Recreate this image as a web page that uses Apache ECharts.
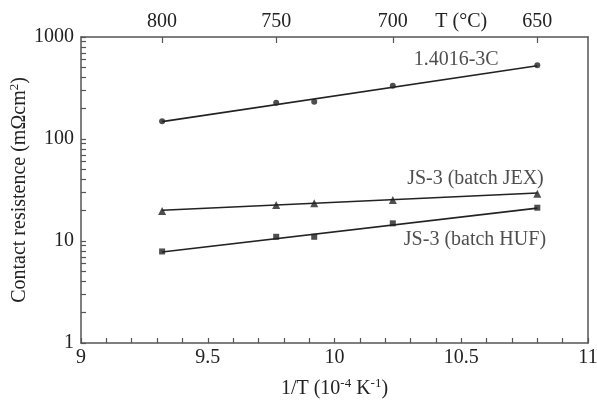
<!DOCTYPE html>
<html>
<head>
<meta charset="utf-8">
<script src="https://cdn.jsdelivr.net/npm/echarts@6/dist/echarts.min.js"></script>
<style>html,body{margin:0;padding:0;background:#fff}#c{width:597px;height:403px}</style>
</head>
<body>
<div id="c"></div>
<script>
// 1/T (10^-4 K^-1) measurement positions
const xVals = [9.32, 9.77, 9.92, 10.23, 10.8];
// contact resistance (mΩcm²)
const s14016 = [149, 227, 232, 333, 528];
const sJEX = [19.7, 22.5, 23.4, 25.2, 29.1];
const sHUF = [7.9, 11.0, 11.0, 14.9, 21.2];
// fitted line end values (at first and last x)
const fitX = [9.32, 10.8];
const fit14016 = [148, 522];
const fitJEX = [20.0, 29.6];
const fitHUF = [7.8, 21.0];
// series names
const names = ['1.4016-3C', 'JS-3 (batch JEX)', 'JS-3 (batch HUF)'];
// top axis temperature ticks
const tempPos = [9.32, 9.77, 10.23, 10.8];
const tempLabels = ['800', '750', '700', '650'];
const tempTitlePos = 10.5;
const tempTitle = 'T (°C)';
// y ticks
const yMinor = [1,2,3,4,5,6,7,8,9,10,20,30,40,50,60,70,80,90,100,200,300,400,500,600,700,800,900,1000];

const FONT = '"Liberation Serif", "DejaVu Serif", serif';
const INK = '#222';
const AX = '#555';
const FS = 20;

const pts = a => xVals.map((x, i) => [x, a[i]]);
const fit = a => fitX.map((x, i) => [x, a[i]]);

const chart = echarts.init(document.getElementById('c'), null, {renderer: 'canvas'});
const lineStyle = {color: INK, width: 1.6};
const scatter = (data, symbol, size) => ({
  type: 'scatter', data, symbol, symbolSize: size, itemStyle: {color: INK}, z: 5
});
const fitLine = data => ({
  type: 'line', data, showSymbol: false, symbol: 'none', lineStyle, silent: true
});
const labelSeries = (name, x, y) => ({
  type: 'scatter', data: [[x, y]], symbolSize: 0,
  label: {show: true, position: 'inside', formatter: name, color: INK, fontFamily: FONT, fontSize: FS},
  silent: true
});
const supRich = {sup: {fontSize: 13, fontFamily: FONT, color: INK, verticalAlign: 'top', padding: [0, 0, 10, 0]}};

chart.setOption({
  animation: false,
  backgroundColor: '#fff',
  textStyle: {fontFamily: FONT},
  grid: {left: 81, right: 9, top: 37, bottom: 60, containLabel: false, outerBoundsMode: 'none'},
  xAxis: [{
    type: 'value', min: 9, max: 11, interval: 0.5, position: 'bottom',
    axisLine: {lineStyle: {color: AX, width: 1.5}},
    axisTick: {inside: true, length: 5, lineStyle: {color: AX, width: 1.2}},
    minorTick: {show: true, splitNumber: 5, length: 5, lineStyle: {color: AX, width: 1.2}},
    splitLine: {show: false},
    axisLabel: {color: INK, fontSize: FS, fontFamily: FONT, margin: 5},
    name: '1/T (10{sup|-4} K{sup|-1})', nameLocation: 'middle', nameGap: 34, nameMoveOverlap: false,
    nameTextStyle: {color: INK, fontSize: FS, fontFamily: FONT, rich: supRich}
  }, {
    type: 'value', min: 9, max: 11, position: 'top',
    axisLine: {lineStyle: {color: AX, width: 1.5}},
    axisTick: {inside: true, length: 6, customValues: tempPos, lineStyle: {color: AX, width: 1.2}},
    splitLine: {show: false},
    axisLabel: {
      color: INK, fontSize: FS, fontFamily: FONT, margin: 5,
      customValues: tempPos.concat([tempTitlePos]),
      formatter: v => {
        if (Math.abs(v - tempTitlePos) < 1e-6) return tempTitle;
        let best = 0;
        tempPos.forEach((p, i) => { if (Math.abs(p - v) < Math.abs(tempPos[best] - v)) best = i; });
        return tempLabels[best];
      }
    }
  }],
  yAxis: [{
    type: 'log', logBase: 10, min: 1, max: 1000, position: 'left',
    axisLine: {show: true, lineStyle: {color: AX, width: 1.5}},
    axisTick: {show: true, inside: true, length: 5, customValues: yMinor, lineStyle: {color: AX, width: 1.2}},
    splitLine: {show: false},
    axisLabel: {color: INK, fontSize: FS, fontFamily: FONT, margin: 7, formatter: v => String(Math.round(v))},
    name: 'Contact resistence (mΩcm{sup|2})', nameLocation: 'middle', nameGap: 50, nameMoveOverlap: false,
    nameTextStyle: {color: INK, fontSize: FS, fontFamily: FONT, rich: supRich}
  }, {
    type: 'log', logBase: 10, min: 1, max: 1000, position: 'right',
    axisLine: {show: true, lineStyle: {color: AX, width: 1.5}},
    axisTick: {show: false}, axisLabel: {show: false}, splitLine: {show: false}
  }],
  series: [
    fitLine(fit(fit14016)),
    fitLine(fit(fitJEX)),
    fitLine(fit(fitHUF)),
    scatter(pts(s14016), 'circle', 6),
    scatter(pts(sJEX), 'triangle', 8),
    scatter(pts(sHUF), 'rect', 6),
    labelSeries(names[0], 10.48, 594),
    labelSeries(names[1], 10.556, 40.5),
    labelSeries(names[2], 10.554, 10.2)
  ]
});
</script>
</body>
</html>
